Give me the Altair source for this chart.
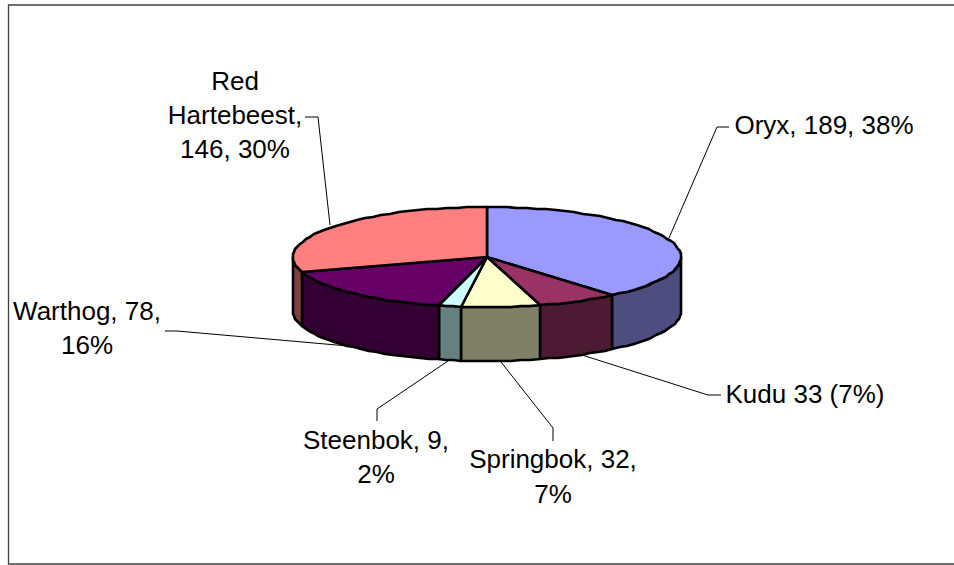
import math
import altair as alt

# Game counts per species, clockwise from twelve o'clock
species = ["Oryx", "Kudu", "Springbok", "Steenbok", "Warthog", "Red Hartebeest"]
counts = [189, 33, 32, 9, 78, 146]
top_colors = ["#9999FF", "#993366", "#FFFFCC", "#CCFFFF", "#660066", "#FF8080"]
side_colors = ["#4D4D80", "#4D1A33", "#808066", "#668080", "#330033", "#804040"]

label_lines = ["Red", "Hartebeest,", "146, 30%", "Oryx, 189, 38%", "Kudu 33 (7%)",
               "Springbok, 32,", "7%", "Steenbok, 9,", "2%", "Warthog, 78,", "16%"]
label_x = [235, 235, 235, 824, 805, 553, 553, 376, 376, 87, 87]
label_y = [82, 116, 150, 126, 395, 460, 495, 441, 475, 312, 346]

# Leader lines as polylines in page pixels
leaders = [
    [[669, 238], [717, 127], [729, 127]],
    [[582, 355], [708, 395], [721, 395]],
    [[501, 362], [553, 428], [553, 441]],
    [[448, 361], [377, 409], [377, 421]],
    [[348, 346], [177, 331], [165, 331]],
    [[330, 225], [318, 117], [305, 117]],
]

CX, CY, RX, RY, DEPTH = 487, 257, 194, 50, 54
STEP = 3.0


def rim(deg, drop=0):
    """Point on the tilted disc's rim; angle runs clockwise from the top."""
    a = math.radians(deg)
    return [round(CX + RX * math.sin(a)), round(CY - RY * math.cos(a) + drop)]


def arc_angles(start, end):
    n = max(1, int(math.ceil((end - start) / STEP)))
    return [start + (end - start) * i / n for i in range(n + 1)]


def polygon(points, fill):
    return {
        "type": "Feature",
        "properties": {"fill": fill},
        "geometry": {"type": "Polygon", "coordinates": [points + [points[0]]]},
    }


total = sum(counts)
walls, tops = [], []
angle = 0.0
for count, top, side in zip(counts, top_colors, side_colors):
    sweep = count / total * 360
    start, end = angle, angle + sweep
    angle = end
    tops.append(polygon([[CX, CY]] + [rim(d) for d in arc_angles(start, end)], top))
    # Only the front half of the rim shows a wall
    lo, hi = max(start, 90), min(end, 270)
    if lo < hi:
        arc = arc_angles(lo, hi)
        walls.append(polygon([rim(d) for d in arc] + [rim(d, DEPTH) for d in reversed(arc)], side))


def flat(layer):
    """Pixel-for-pixel projection, so GeoJSON coordinates are page coordinates."""
    return layer.project(type="identity", scale=1, translate=[0, 0])


def line_features(lines):
    return [
        {"type": "Feature", "properties": {}, "geometry": {"type": "LineString", "coordinates": c}}
        for c in lines
    ]


frame = flat(
    alt.Chart(alt.Data(values=line_features([[[960, 5], [8.5, 5], [8.5, 564], [960, 564]]])))
    .mark_geoshape(filled=False, stroke="#404040", strokeWidth=1.3)
)
leader_layer = flat(
    alt.Chart(alt.Data(values=line_features(leaders)))
    .mark_geoshape(filled=False, stroke="#000000", strokeWidth=1)
)
wall_layer = flat(
    alt.Chart(alt.Data(values=walls))
    .mark_geoshape(stroke="#000000", strokeWidth=2.6, strokeJoin="round")
    .encode(fill=alt.Fill("properties.fill:N", scale=None))
)
top_layer = flat(
    alt.Chart(alt.Data(values=tops))
    .mark_geoshape(stroke="#000000", strokeWidth=2.6, strokeJoin="round")
    .encode(fill=alt.Fill("properties.fill:N", scale=None))
)
labels = (
    alt.Chart(alt.Data(values=[
        {"text": t, "px": x, "py": y} for t, x, y in zip(label_lines, label_x, label_y)
    ]))
    .mark_text(font="Liberation Sans", fontSize=26, color="#000000", align="center", baseline="middle")
    .encode(
        x=alt.X("px:Q", scale=None, axis=None),
        y=alt.Y("py:Q", scale=None, axis=None),
        text="text:N",
    )
)

chart = (
    alt.layer(frame, leader_layer, wall_layer, top_layer, labels)
    .properties(width=954, height=565, background="#FFFFFF", padding=0, autosize=alt.AutoSizeParams(type="none"))
    .configure_view(stroke=None)
)
chart.save("out.html", embed_options={"renderer": "svg", "actions": False})
